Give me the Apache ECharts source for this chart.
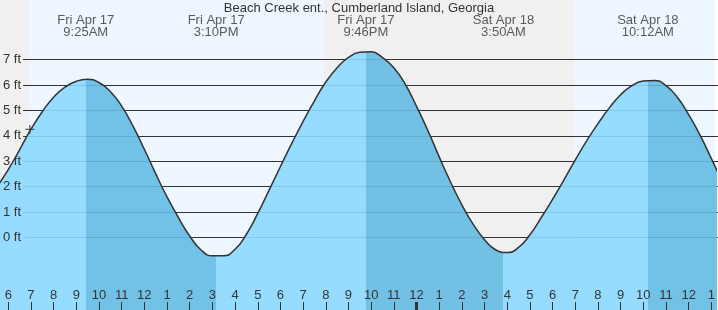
<!DOCTYPE html>
<html>
<head>
<meta charset="utf-8">
<script src="https://cdn.jsdelivr.net/npm/echarts@6/dist/echarts.min.js"></script>
<style>
html,body{margin:0;padding:0;background:#ffffff;}
#chart{width:718px;height:310px;}
</style>
</head>
<body>
<div id="chart"></div>
<script>
// ---------- data (times are hours since Fri Apr 17, 00:00) ----------
const chartTitle = 'Beach Creek ent., Cumberland Island, Georgia';
const tideTimes  = [9.417, 15.167, 21.767, 27.833, 34.2];
const tideDates  = ['Fri Apr 17', 'Fri Apr 17', 'Fri Apr 17', 'Sat Apr 18', 'Sat Apr 18'];
const tideClock  = ['9:25AM', '3:10PM', '9:46PM', '3:50AM', '10:12AM'];
const tideKinds  = ['high', 'low', 'high', 'low', 'high'];
const sunriseHours = [6.91, 30.93];
const sunsetHours  = [19.91];
const curveHours = [5.5, 6, 6.5, 7, 7.5, 8, 8.5, 9, 9.5, 10, 10.5, 11, 11.5, 12, 12.5, 13, 13.5, 14, 14.5,
                    15, 15.5, 16, 16.5, 17, 17.5, 18, 18.5, 19, 19.5, 20, 20.5, 21, 21.5, 22, 22.5, 23, 23.5,
                    24, 24.5, 25, 25.5, 26, 26.5, 27, 27.5, 28, 28.5, 29, 29.5, 30, 30.5, 31, 31.5, 32, 32.5,
                    33, 33.5, 34, 34.5, 35, 35.5, 36, 36.5, 37, 37.5];
const curveFeet  = [1.99, 2.67, 3.45, 4.26, 4.95, 5.52, 5.92, 6.15, 6.23, 6.10, 5.75, 5.17, 4.38, 3.47, 2.51, 1.59, 0.78, 0.05, -0.50,
                    -0.73, -0.73, -0.47, 0.12, 0.94, 1.86, 2.79, 3.70, 4.57, 5.38, 6.12, 6.68, 7.09, 7.29, 7.31, 7.08, 6.68, 6.04,
                    5.16, 4.21, 3.17, 2.18, 1.28, 0.51, -0.10, -0.50, -0.60, -0.40, 0.10, 0.78, 1.50, 2.26, 3.05, 3.80, 4.48, 5.10,
                    5.62, 5.98, 6.16, 6.18, 5.98, 5.52, 4.83, 4.03, 3.10, 2.15];
const nowMarker  = [6.954, 4.25];
const feetTicks  = [0, 1, 2, 3, 4, 5, 6, 7];
const hourTicks  = [6, 7, 8, 9, 10, 11, 12, 13, 14, 15, 16, 17, 18, 19, 20, 21, 22, 23, 24,
                    25, 26, 27, 28, 29, 30, 31, 32, 33, 34, 35, 36, 37];
const hourLabels = ['6','7','8','9','10','11','12','1','2','3','4','5','6','7','8','9','10','11','12',
                    '1','2','3','4','5','6','7','8','9','10','11','12','1'];
const midnightTicks = [24];
const viewStart = 5.636, viewEnd = 37.17;

// ---------- layout / style ----------
const H = 310;
const zeroFtPx = 237.3, sevenFtPx = 59.7;
const pxPerFt = (zeroFtPx - sevenFtPx) / 7;
const yTopFt = zeroFtPx / pxPerFt;
const yBottomFt = -(H - zeroFtPx) / pxPerFt;
const tideLabelFt = (zeroFtPx - 26.2) / pxPerFt;
const FONT = '"Liberation Sans", Arial, sans-serif';
const TEXT = '#333333';
const DAY_BG = '#eef6ff', NIGHT_BG = '#f0f0f0';
const FILL_LIGHT = '#8cd9ff', FILL_DARK = '#64bbe3';

const curveData = curveHours.map((t, i) => [t, curveFeet[i]]);

// background bands (night/day)
const bandEdges = [viewStart, sunriseHours[0], sunsetHours[0], sunriseHours[1], viewEnd];
const bands = [];
for (let i = 0; i < bandEdges.length - 1; i++) {
  bands.push([
    { xAxis: bandEdges[i], itemStyle: { color: i % 2 === 0 ? NIGHT_BG : DAY_BG } },
    { xAxis: bandEdges[i + 1] }
  ]);
}

// falling-tide pieces (high -> next low) drawn darker
const pieces = [];
tideKinds.forEach((k, i) => {
  if (k === 'high') {
    pieces.push({ gte: tideTimes[i], lt: i + 1 < tideTimes.length ? tideTimes[i + 1] : viewEnd + 1, color: FILL_DARK });
  }
});

const feetAxisBase = {
  gridIndex: 1, type: 'value', position: 'left', offset: 0,
  min: feetTicks[0], max: feetTicks[feetTicks.length - 1], interval: 1,
  axisLine: { show: false, onZero: false }, axisTick: { show: false }
};

const chart = echarts.init(document.getElementById('chart'), null, { renderer: 'canvas' });
chart.setOption({
  animation: false,
  backgroundColor: '#ffffff',
  textStyle: { fontFamily: FONT },
  title: {
    text: chartTitle, left: 'center', top: 2, padding: 0, z: 10,
    textStyle: { fontSize: 13, fontWeight: 'normal', color: TEXT, fontFamily: FONT }
  },
  grid: [
    { left: 0, right: 0, top: 0, bottom: 0 },
    { left: 22, right: 0, top: sevenFtPx, bottom: H - zeroFtPx }
  ],
  visualMap: {
    type: 'piecewise', show: false, dimension: 0, seriesIndex: 1,
    pieces: pieces, outOfRange: { color: FILL_LIGHT }
  },
  xAxis: [
    {
      gridIndex: 0, type: 'value', min: viewStart, max: viewEnd, position: 'bottom', z: 10,
      axisLine: { show: false, onZero: false }, splitLine: { show: false },
      axisTick: { show: true, inside: true, length: 8, customValues: hourTicks, lineStyle: { color: TEXT, width: 1 } },
      axisLabel: {
        show: true, inside: true, margin: 8, customValues: hourTicks,
        formatter: v => hourLabels[hourTicks.indexOf(Math.round(v))] || '',
        fontSize: 13, color: TEXT, fontFamily: FONT
      }
    },
    {
      gridIndex: 0, type: 'value', min: viewStart, max: viewEnd, position: 'bottom', z: 10,
      axisLine: { show: false, onZero: false }, splitLine: { show: false }, axisLabel: { show: false },
      axisTick: { show: true, inside: true, length: 8, customValues: midnightTicks, lineStyle: { color: TEXT, width: 3 } }
    },
    { gridIndex: 1, type: 'value', min: viewStart, max: viewEnd, show: false, axisLine: { onZero: false } }
  ],
  yAxis: [
    { gridIndex: 0, type: 'value', min: yBottomFt, max: yTopFt, show: false, axisLine: { onZero: false } },
    Object.assign({}, feetAxisBase, {
      z: 0,
      axisLabel: { show: false },
      splitLine: { show: true, lineStyle: { color: '#333333', width: 1 } }
    }),
    Object.assign({}, feetAxisBase, {
      z: 10,
      axisLabel: { show: true, margin: 2, formatter: '{value} ft', fontSize: 13, color: TEXT, fontFamily: FONT },
      splitLine: { show: false }
    })
  ],
  series: [
    {
      type: 'line', xAxisIndex: 0, yAxisIndex: 0, z: -1, silent: true,
      data: curveData, showSymbol: false, lineStyle: { opacity: 0, width: 0 },
      markArea: { silent: true, z: -1, data: bands }
    },
    {
      type: 'line', xAxisIndex: 0, yAxisIndex: 0, z: 2, silent: true,
      data: curveData, smooth: true, showSymbol: false, symbol: 'none',
      lineStyle: { color: '#333333', width: 1.5 },
      areaStyle: { origin: 'start', opacity: 0.9 }
    },
    {
      type: 'scatter', xAxisIndex: 0, yAxisIndex: 0, z: 5, silent: true,
      data: tideTimes.map(t => [t, tideLabelFt]), symbolSize: 0,
      label: {
        show: true, position: 'inside',
        formatter: p => tideDates[p.dataIndex] + '\n' + tideClock[p.dataIndex],
        fontSize: 13, lineHeight: 12.5, color: TEXT, fontFamily: FONT
      }
    },
    {
      type: 'scatter', xAxisIndex: 0, yAxisIndex: 0, z: 6, silent: true,
      data: [nowMarker], symbol: 'path://M0,5L10,5M5,0L5,10', symbolSize: 9,
      itemStyle: { color: 'none', borderColor: '#333333', borderWidth: 1.3 }
    }
  ]
});
</script>
</body>
</html>
